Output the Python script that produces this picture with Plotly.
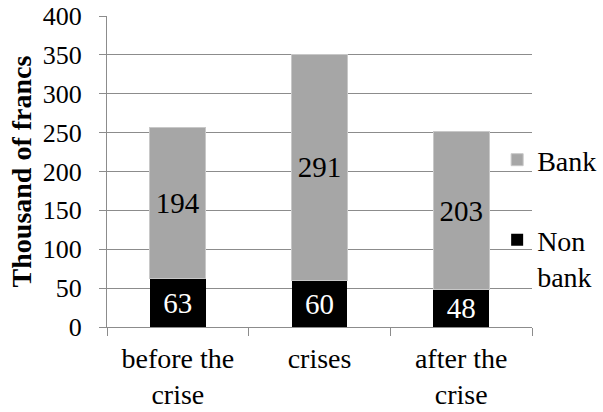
import plotly.graph_objects as go

categories = ["before the<br>crise", "crises", "after the<br>crise"]
non_bank = [63, 60, 48]
bank = [194, 291, 203]
y_ticks = [0, 50, 100, 150, 200, 250, 300, 350, 400]

FONT = "Liberation Serif, Times New Roman, serif"
GRID = "#8c8c8c"

fig = go.Figure()
fig.add_trace(go.Bar(
    x=categories, y=non_bank, name="Non<br>bank",
    marker=dict(color="#000000", line=dict(color="#000000", width=0)),
    text=non_bank, textposition="inside", insidetextanchor="middle",
    textangle=0, constraintext="none",
    textfont=dict(family=FONT, size=29, color="white"),
    legend="legend2",
))
fig.add_trace(go.Bar(
    x=categories, y=bank, name="Bank",
    marker=dict(color="#a6a6a6", line=dict(color="#c8c8c8", width=1)),
    text=bank, textposition="inside", insidetextanchor="middle",
    textangle=0, constraintext="none",
    textfont=dict(family=FONT, size=29, color="black"),
    legend="legend3",
))

legend_common = dict(
    xanchor="left",
    font=dict(family=FONT, size=28, color="black"),
    bgcolor="rgba(0,0,0,0)", borderwidth=0,
    itemwidth=30,
)

fig.update_layout(
    width=603, height=412,
    margin=dict(l=107, r=71, t=16, b=85, autoexpand=False),
    barmode="stack", bargap=0.605,
    paper_bgcolor="white", plot_bgcolor="white",
    font=dict(family=FONT, size=26, color="black"),
    uniformtext=dict(minsize=29, mode="show"),
    showlegend=True,
    legend=dict(visible=False),
    legend3=dict(x=0.918, y=0.537, yanchor="middle", **legend_common),
    legend2=dict(x=0.918, y=0.36, yanchor="top", valign="top", **legend_common),
    xaxis=dict(
        showline=True, linecolor=GRID, linewidth=1,
        ticks="outside", tickson="boundaries", ticklen=8, tickcolor=GRID,
        tickfont=dict(family=FONT, size=28, color="black"),
        ticklabelstandoff=6,
        showgrid=False, automargin=False,
    ),
    yaxis=dict(
        range=[0, 400], tickvals=y_ticks,
        showline=True, linecolor=GRID, linewidth=1,
        ticks="outside", ticklen=7, tickcolor=GRID,
        showgrid=True, gridcolor=GRID, gridwidth=1,
        zeroline=False, automargin=False,
        ticklabelstandoff=12,
        tickfont=dict(family=FONT, size=26, color="black"),
        title=dict(text="<b>Thousand of francs</b>",
                   font=dict(family=FONT, size=28, color="black"),
                   standoff=2),
    ),
)

fig.write_html("out.html", config={"displayModeBar": False},
               post_script="document.body.style.margin='0';")
